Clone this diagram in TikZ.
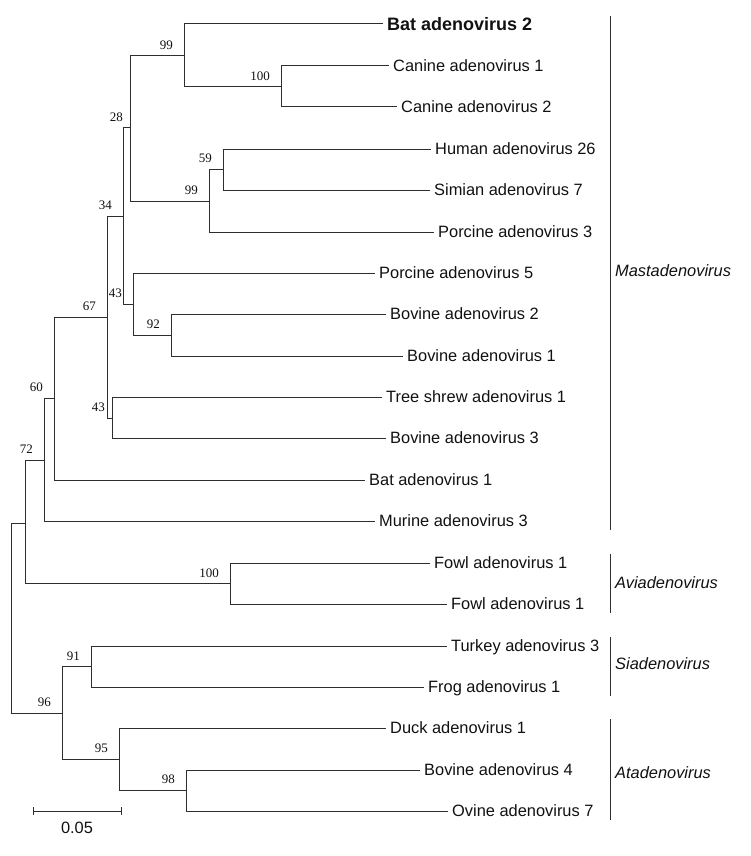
\documentclass[tikz,border=0pt]{standalone}
\usepackage{fontspec}
\setmainfont{Liberation Sans}
\newfontfamily\bootfont{Liberation Serif}
\usetikzlibrary{arrows.meta}
\definecolor{TreeLine}{HTML}{2E2E2E}
\definecolor{TreeText}{HTML}{111111}
\tikzset{
  branch/.style={draw=TreeLine, line width=1pt},
  leaf/.style={anchor=west, inner xsep=4pt, inner ysep=0pt, text height=11.8pt, text depth=0pt, text=TreeText, font=\fontsize{16.4}{18}\selectfont},
  boldleaf/.style={leaf, text height=12.9pt, font=\fontsize{18}{20}\selectfont\bfseries},
  boot/.style={anchor=south east, inner sep=0pt, xshift=-11pt, yshift=6pt, text=TreeText, font=\bootfont\fontsize{13}{14}\selectfont},
  genus/.style={anchor=west, inner xsep=5pt, inner ysep=0pt, text height=11.8pt, text depth=0pt, text=TreeText, font=\fontsize{16.4}{18}\selectfont\itshape},
  cladebar/.style={draw=TreeLine, line width=1pt},
  scalebar/.style={draw=TreeLine, line width=1pt, {Bar[width=8pt]}-{Bar[width=8pt]}}
}

\begin{document}
\begin{tikzpicture}[x=1pt, y=-1pt]
    \useasboundingbox (0,0) rectangle (750,856);

    \coordinate (root) at (11,618);
    \coordinate (nTop) at (25,523);
    \coordinate (n72) at (44,460);
    \coordinate (n60) at (54,398);
    \coordinate (n67) at (107,317);
    \coordinate (n34) at (123,216);
    \coordinate (n28) at (130,128);
    \coordinate (n99a) at (184,56);
    \coordinate (n100c) at (281,87);
    \coordinate (n99b) at (209,201);
    \coordinate (n59) at (223,169);
    \coordinate (n43a) at (133,304);
    \coordinate (n92) at (171,335);
    \coordinate (n43b) at (112,418);
    \coordinate (n100f) at (230,583.5);
    \coordinate (n96) at (62,713);
    \coordinate (n91) at (91,666.5);
    \coordinate (n95) at (119,759);
    \coordinate (n98) at (186,790);

    \node[boldleaf] (bat2) at (383,24) {Bat adenovirus 2};
    \node[leaf] (canine1) at (389,66) {Canine adenovirus 1};
    \node[leaf] (canine2) at (397,107) {Canine adenovirus 2};
    \node[leaf] (human26) at (431,149) {Human adenovirus 26};
    \node[leaf] (simian7) at (430,190) {Simian adenovirus 7};
    \node[leaf] (porcine3) at (434,232) {Porcine adenovirus 3};
    \node[leaf] (porcine5) at (375,273) {Porcine adenovirus 5};
    \node[leaf] (bovine2) at (386,314) {Bovine adenovirus 2};
    \node[leaf] (bovine1) at (403,356) {Bovine adenovirus 1};
    \node[leaf] (treeshrew) at (382,397) {Tree shrew adenovirus 1};
    \node[leaf] (bovine3) at (386,438) {Bovine adenovirus 3};
    \node[leaf] (bat1) at (365,480) {Bat adenovirus 1};
    \node[leaf] (murine3) at (375,521) {Murine adenovirus 3};
    \node[leaf] (fowl1a) at (430,563) {Fowl adenovirus 1};
    \node[leaf] (fowl1b) at (447,604) {Fowl adenovirus 1};
    \node[leaf] (turkey3) at (447,646) {Turkey adenovirus 3};
    \node[leaf] (frog1) at (424,687) {Frog adenovirus 1};
    \node[leaf] (duck1) at (386,728) {Duck adenovirus 1};
    \node[leaf] (bovine4) at (420,770) {Bovine adenovirus 4};
    \node[leaf] (ovine7) at (448,811) {Ovine adenovirus 7};

    \draw[branch] (root) |- (nTop);
    \draw[branch] (root) |- (n96);
    \draw[branch] (nTop) |- (n72);
    \draw[branch] (nTop) |- (n100f);
    \draw[branch] (n72) |- (n60);
    \draw[branch] (n72) |- (murine3.west);
    \draw[branch] (n60) |- (n67);
    \draw[branch] (n60) |- (bat1.west);
    \draw[branch] (n67) |- (n34);
    \draw[branch] (n67) |- (n43b);
    \draw[branch] (n34) |- (n28);
    \draw[branch] (n34) |- (n43a);
    \draw[branch] (n28) |- (n99a);
    \draw[branch] (n28) |- (n99b);
    \draw[branch] (n99a) |- (bat2.west);
    \draw[branch] (n99a) |- (n100c);
    \draw[branch] (n100c) |- (canine1.west);
    \draw[branch] (n100c) |- (canine2.west);
    \draw[branch] (n99b) |- (n59);
    \draw[branch] (n99b) |- (porcine3.west);
    \draw[branch] (n59) |- (human26.west);
    \draw[branch] (n59) |- (simian7.west);
    \draw[branch] (n43a) |- (porcine5.west);
    \draw[branch] (n43a) |- (n92);
    \draw[branch] (n92) |- (bovine2.west);
    \draw[branch] (n92) |- (bovine1.west);
    \draw[branch] (n43b) |- (treeshrew.west);
    \draw[branch] (n43b) |- (bovine3.west);
    \draw[branch] (n100f) |- (fowl1a.west);
    \draw[branch] (n100f) |- (fowl1b.west);
    \draw[branch] (n96) |- (n91);
    \draw[branch] (n96) |- (n95);
    \draw[branch] (n91) |- (turkey3.west);
    \draw[branch] (n91) |- (frog1.west);
    \draw[branch] (n95) |- (duck1.west);
    \draw[branch] (n95) |- (n98);
    \draw[branch] (n98) |- (bovine4.west);
    \draw[branch] (n98) |- (ovine7.west);

    \node[boot] (b99a) at (n99a) {99};
    \node[boot] (b100c) at (n100c) {100};
    \node[boot, xshift=4pt] (b28) at (n28) {28};
    \node[boot] (b59) at (n59) {59};
    \node[boot] (b99b) at (n99b) {99};
    \node[boot] (b34) at (n34) {34};
    \node[boot] (b43a) at (n43a) {43};
    \node[boot] (b67) at (n67) {67};
    \node[boot] (b92) at (n92) {92};
    \node[boot, xshift=4pt] (b43b) at (n43b) {43};
    \node[boot] (b60) at (n60) {60};
    \node[boot] (b72) at (n72) {72};
    \node[boot] (b100f) at (n100f) {100};
    \node[boot] (b91) at (n91) {91};
    \node[boot] (b96) at (n96) {96};
    \node[boot] (b95) at (n95) {95};
    \node[boot] (b98) at (n98) {98};

    \coordinate (mastTop) at (610,16);
    \coordinate (mastBot) at (610,530);
    \coordinate (aviaTop) at (610,554);
    \coordinate (aviaBot) at (610,613);
    \coordinate (siaTop) at (610,637);
    \coordinate (siaBot) at (610,696);
    \coordinate (ataTop) at (610,719);
    \coordinate (ataBot) at (610,820);
    \draw[cladebar] (mastTop) -- (mastBot);
    \draw[cladebar] (aviaTop) -- (aviaBot);
    \draw[cladebar] (siaTop) -- (siaBot);
    \draw[cladebar] (ataTop) -- (ataBot);
    \node[genus] (mast) at (610,271) {Mastadenovirus};
    \node[genus] (avia) at (610,583) {Aviadenovirus};
    \node[genus] (sia) at (610,664) {Siadenovirus};
    \node[genus] (ata) at (610,773) {Atadenovirus};

    \coordinate (scaleL) at (33,811);
    \coordinate (scaleR) at (122,811);
    \draw[scalebar] (scaleL) -- (scaleR);
    \node[text=TreeText, font=\fontsize{16.4}{18}\selectfont] (scalelab) at (77,828) {0.05};
\end{tikzpicture}
\end{document}
